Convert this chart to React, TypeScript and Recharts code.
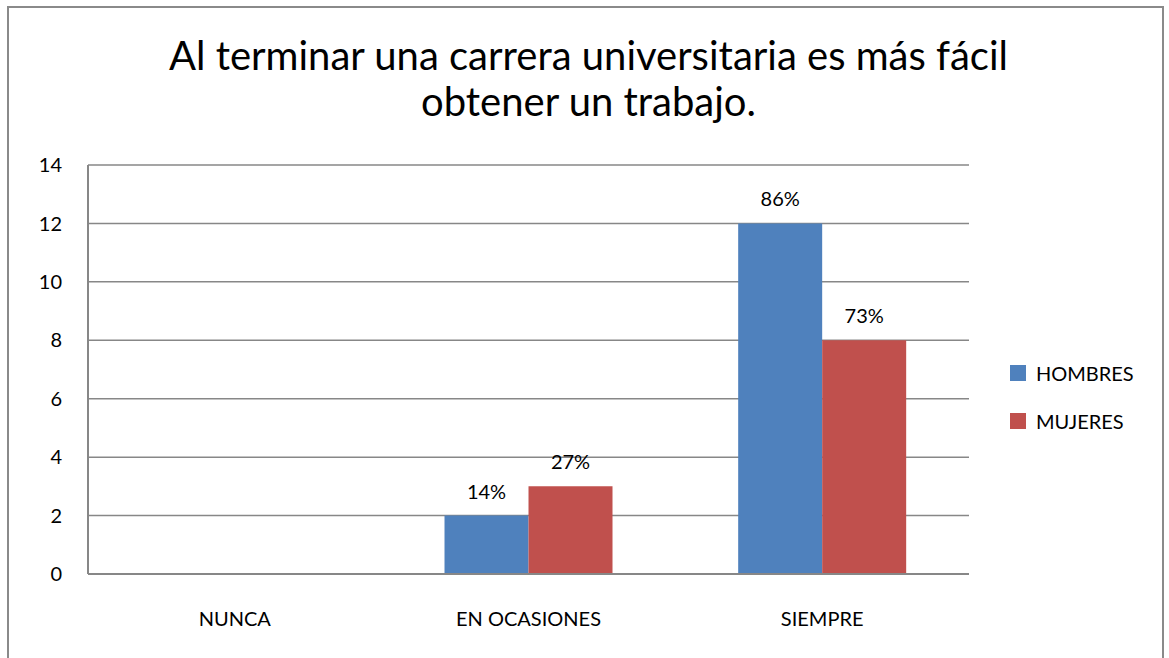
import React from "react";
import { BarChart, Bar, XAxis, YAxis, CartesianGrid, LabelList } from "recharts";

const categories = ["NUNCA", "EN OCASIONES", "SIEMPRE"];
const hombres = [0, 2, 12];
const mujeres = [0, 3, 8];
const hombresPct = ["", "14%", "86%"];
const mujeresPct = ["", "27%", "73%"];
const yTicks = [0, 2, 4, 6, 8, 10, 12, 14];

const BLUE = "#4F81BD";
const RED = "#C0504D";
const GRID = "#878787";
const FONT = "Lato, 'Open Sans', sans-serif";

const data = categories.map((c, i) => ({
  name: c,
  HOMBRES: hombres[i],
  MUJERES: mujeres[i],
  hPct: hombresPct[i],
  mPct: mujeresPct[i],
}));

const legendItems = [
  { label: "HOMBRES", color: BLUE },
  { label: "MUJERES", color: RED },
];

function LegendBox() {
  return (
    <div style={{ position: "absolute", left: 1010, top: 349, fontFamily: FONT, fontSize: 20, color: "#000" }}>
      {legendItems.map((it) => (
        <div key={it.label} style={{ display: "flex", alignItems: "center", height: 48 }}>
          <div style={{ width: 16, height: 16, background: it.color, marginRight: 10 }} />
          <span>{it.label}</span>
        </div>
      ))}
    </div>
  );
}

export default function App() {
  return (
    <div style={{ position: "absolute", left: 0, top: 0, width: 1169, height: 658, background: "#fff", overflow: "hidden" }}>
      <div
        style={{
          position: "absolute",
          left: 7,
          top: 6,
          width: 1153,
          height: 700,
          border: "2px solid #8a8a8a",
        }}
      />
      <div
        style={{
          position: "absolute",
          left: 0,
          top: 32,
          width: 1177,
          textAlign: "center",
          fontFamily: FONT,
          fontSize: 40,
          lineHeight: "46px",
          color: "#000",
        }}
      >
        Al terminar una carrera universitaria es más fácil
        <br />
        obtener un trabajo.
      </div>
      <div style={{ position: "absolute", left: 0, top: 0 }}>
        <BarChart
          width={1169}
          height={658}
          data={data}
          margin={{ top: 165, right: 200, bottom: 54, left: 28 }}
          barCategoryGap="21.4%"
          barGap={0}
        >
          <CartesianGrid vertical={false} stroke={GRID} strokeWidth={1.5} />
          <XAxis
            dataKey="name"
            height={30}
            axisLine={{ stroke: GRID, strokeWidth: 2 }}
            tickLine={false}
            tickSize={0}
            tickMargin={38}
            tick={{ fill: "#000", fontSize: 20, fontFamily: FONT }}
          />
          <YAxis
            width={60}
            domain={[0, 14]}
            ticks={yTicks}
            interval={0}
            axisLine={{ stroke: GRID, strokeWidth: 2 }}
            tickLine={false}
            tickSize={0}
            tickMargin={26}
            tick={{ fill: "#000", fontSize: 20, fontFamily: FONT }}
          />
          <Bar dataKey="HOMBRES" fill={BLUE} isAnimationActive={false}>
            <LabelList dataKey="hPct" position="top" offset={17} fill="#000" fontSize={20} fontFamily={FONT} />
          </Bar>
          <Bar dataKey="MUJERES" fill={RED} isAnimationActive={false}>
            <LabelList dataKey="mPct" position="top" offset={17} fill="#000" fontSize={20} fontFamily={FONT} />
          </Bar>
        </BarChart>
      </div>
      <LegendBox />
    </div>
  );
}
